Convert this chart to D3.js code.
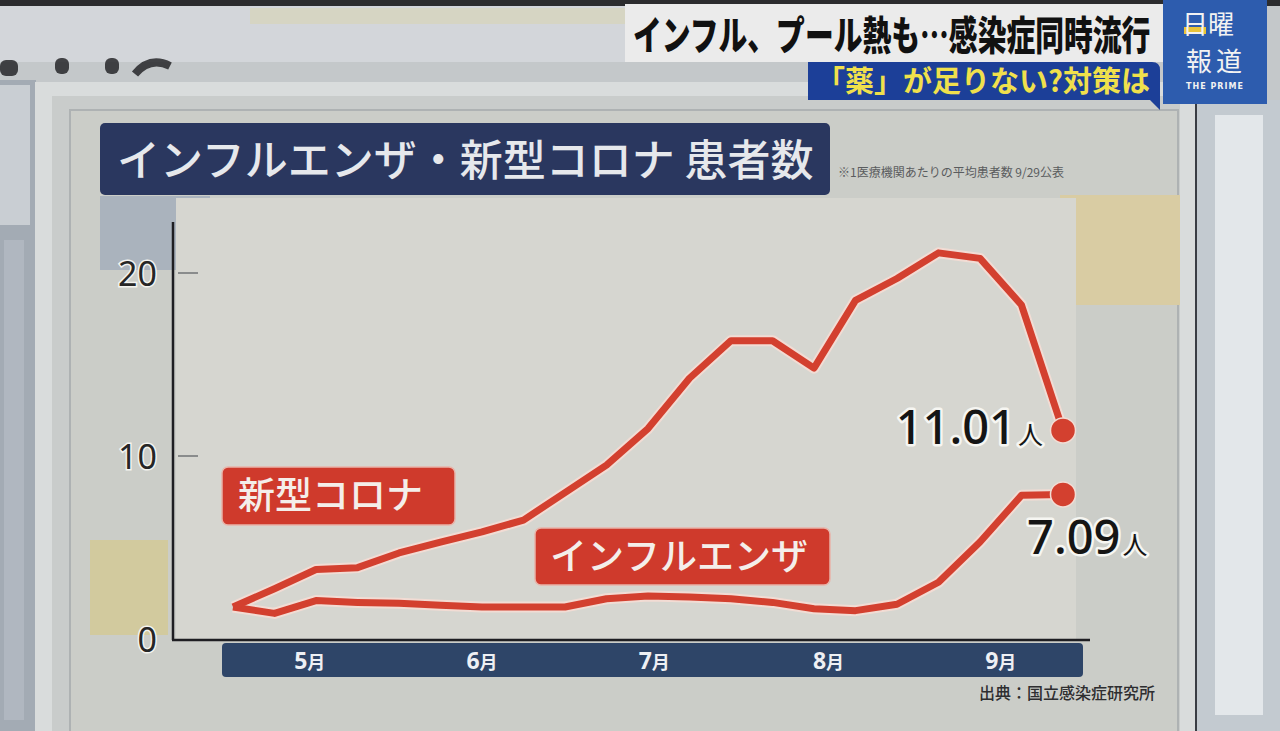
<!DOCTYPE html>
<html><head><meta charset="utf-8">
<script src="https://cdn.jsdelivr.net/npm/d3@7"></script>
<style>html,body{margin:0;padding:0;background:#c4c8ca;overflow:hidden}</style>
</head><body><svg id="c" width="1280" height="731"></svg>
<script>
// ---- data ----
const weeks = ["5/1","5/8","5/15","5/22","5/29","6/5","6/12","6/19","6/26","7/3","7/10","7/17","7/24","7/31","8/7","8/14","8/21","8/28","9/4","9/11","9/18"];
const covid = [1.75, 2.75, 3.8, 3.9, 4.7, 5.3, 5.85, 6.5, 8.0, 9.5, 11.5, 14.25, 16.3, 16.3, 14.8, 18.5, 19.7, 21.1, 20.8, 18.25, 11.4];
const flu   = [1.75, 1.4, 2.1, 2.0, 1.95, 1.85, 1.75, 1.75, 1.75, 2.2, 2.35, 2.3, 2.2, 2.0, 1.65, 1.55, 1.9, 3.1, 5.3, 7.85, 7.9];
const yTicks = [0, 10, 20];
const months = ["5", "6", "7", "8", "9"];
const monthAt = [1.85, 6, 10.15, 14.35, 18.5];
const seriesNames = ["新型コロナ", "インフルエンザ"];
const endValues = ["11.01", "7.09"];
const unit = "人";
const title = "インフルエンザ・新型コロナ 患者数";
const note = "※1医療機関あたりの平均患者数 9/29公表";
const source = "出典：国立感染症研究所";
const headline = "インフル、プール熱も…感染症同時流行";
const subhead = "「薬」が足りない?対策は";
const logo = ["日曜", "報道", "THE PRIME"];

const JP = "'Noto Sans CJK JP','Noto Sans',sans-serif";
const svg = d3.select("#c");
const RED = "#d3402f";

// ---- background (TV studio photo) ----
svg.append("rect").attr("x",0).attr("y",0).attr("width",1280).attr("height",731).attr("fill","#c4c8ca");
svg.append("rect").attr("x",0).attr("y",0).attr("width",640).attr("height",62).attr("fill","#d3d6da");
svg.append("rect").attr("x",250).attr("y",8).attr("width",380).attr("height",16).attr("fill","#d9d4b4").attr("opacity",0.6);
svg.append("rect").attr("x",0).attr("y",0).attr("width",1280).attr("height",6).attr("fill","#2c2c2e");
[[0,60,18],[55,58,14],[105,58,14]].forEach(d=>svg.append("rect").attr("x",d[0]).attr("y",d[1]).attr("width",d[2]).attr("height",16).attr("rx",6).attr("fill","#1d1d1f").attr("opacity",0.8));
svg.append("path").attr("d","M135,74 Q150,56 170,66").attr("stroke","#1d1d1f").attr("stroke-width",8).attr("fill","none").attr("opacity",0.8);
// left strip
svg.append("rect").attr("x",0).attr("y",80).attr("width",36).attr("height",651).attr("fill","#a3abb4");
svg.append("rect").attr("x",0).attr("y",85).attr("width",30).attr("height",140).attr("fill","#c9ced3");
svg.append("rect").attr("x",4).attr("y",240).attr("width",20).attr("height",480).attr("fill","#b5bcc4").attr("opacity",0.7);
// right strip
svg.append("rect").attr("x",1195).attr("y",100).attr("width",85).attr("height",631).attr("fill","#c3cad0");
svg.append("rect").attr("x",1215).attr("y",115).attr("width",48).attr("height",600).attr("fill","#e3e7ea");
svg.append("rect").attr("x",1193).attr("y",100).attr("width",4).attr("height",631).attr("fill","#3a3d44");

// panel
svg.append("rect").attr("x",35).attr("y",82).attr("width",1160).attr("height",660).attr("fill","#d9dcdc");
svg.append("rect").attr("x",52).attr("y",96).attr("width",1128).attr("height",640).attr("fill","#c9cccb");
svg.append("rect").attr("x",70).attr("y",110).attr("width",1108).attr("height",625).attr("fill","#cbcdc8").attr("stroke","#aeb2b3").attr("stroke-width",2);
// layered background patches
svg.append("rect").attr("x",100).attr("y",196).attr("width",110).attr("height",74).attr("fill","#aab3bd");
svg.append("rect").attr("x",90).attr("y",540).attr("width",78).attr("height",95).attr("fill","#d2ca9e");
svg.append("rect").attr("x",1060).attr("y",195).attr("width",120).attr("height",110).attr("fill","#d9cca3");
svg.append("rect").attr("x",176).attr("y",198).attr("width",900).attr("height",442).attr("fill","#d6d6d0");

// ---- top captions ----
svg.append("rect").attr("x",625).attr("y",4).attr("width",538).attr("height",58).attr("fill","#ebebeb");
svg.append("text").attr("x",633).attr("y",50).attr("font-family",JP).attr("font-weight",900).attr("font-size",40)
  .attr("fill","#111").attr("transform","translate(633,0) scale(0.72,1) translate(-633,0)").text(headline);
svg.append("path").attr("d","M808,62 H1152 Q1160,62 1160,70 V110 L1150,100 H808 Z").attr("fill","#1c3f98");
svg.append("text").attr("x",816).attr("y",92).attr("font-family",JP).attr("font-weight",700).attr("font-size",29)
  .attr("fill","#f0e04c").text(subhead);
svg.append("rect").attr("x",1163).attr("y",0).attr("width",104).attr("height",104).attr("fill","#2d5cae");
svg.append("rect").attr("x",1184).attr("y",27).attr("width",22).attr("height",7).attr("fill","#e9c43a");
svg.append("text").attr("x",1182).attr("y",34).attr("font-family",JP).attr("font-size",26).attr("fill","#f2f2f2").text(logo[0]);
svg.append("text").attr("x",1216).attr("y",71).attr("text-anchor","middle").attr("font-family",JP).attr("font-size",26).attr("letter-spacing",4).attr("fill","#f2f2f2").text(logo[1]);
svg.append("text").attr("x",1215).attr("y",89).attr("text-anchor","middle").attr("font-family","'DejaVu Sans',sans-serif").attr("font-weight",700).attr("font-size",8).attr("letter-spacing",1).attr("fill","#f2f2f2").text(logo[2]);

// ---- title ----
svg.append("rect").attr("x",100).attr("y",123).attr("width",730).attr("height",72).attr("rx",5).attr("fill","#2a375f");
svg.append("text").attr("x",117).attr("y",176).attr("font-family",JP).attr("font-weight",500).attr("font-size",43).attr("fill","#e6e8ec").text(title);
svg.append("text").attr("x",838).attr("y",177).attr("font-family",JP).attr("font-size",12).attr("fill","#5a5c5e").text(note);

// ---- scales ----
const x = d3.scaleLinear().domain([0, weeks.length - 1]).range([233, 1063]);
const y = d3.scaleLinear().domain([0, 20]).range([639, 273]);

// axes
svg.append("line").attr("x1",173).attr("x2",173).attr("y1",222).attr("y2",y(0)+1).attr("stroke","#1e1e22").attr("stroke-width",2.5);
svg.append("line").attr("x1",172).attr("x2",1090).attr("y1",y(0)+1).attr("y2",y(0)+1).attr("stroke","#1e1e22").attr("stroke-width",2.5);
svg.selectAll(".tk").data(yTicks.filter(d=>d>0)).join("line").attr("class","tk")
  .attr("x1",178).attr("x2",198).attr("y1",d=>y(d)).attr("y2",d=>y(d)).attr("stroke","#8a8c8c").attr("stroke-width",2);
svg.selectAll(".tl").data(yTicks).join("text").attr("class","tl")
  .attr("x",157).attr("y",d=>y(d)+13).attr("text-anchor","end")
  .attr("font-family","'Noto Sans',sans-serif").attr("font-size",34).attr("fill","#262626")
  .attr("stroke","#f4f4f0").attr("stroke-width",3).attr("paint-order","stroke").text(d=>d);

// month band
svg.append("rect").attr("x",222).attr("y",643).attr("width",861).attr("height",34).attr("rx",4).attr("fill","#2e4568");
const mt = svg.selectAll(".mt").data(months).join("text").attr("class","mt")
  .attr("x",(d,i)=>x(monthAt[i])).attr("y",669).attr("text-anchor","middle").attr("fill","#eef0f4");
mt.append("tspan").attr("font-family","'Noto Sans',sans-serif").attr("font-weight",700).attr("font-size",23).text(d=>d);
mt.append("tspan").attr("font-family",JP).attr("font-weight",700).attr("font-size",18).text("月");

// ---- lines ----
const line = d3.line().x((d,i)=>x(i)).y(d=>y(d));
[flu, covid].forEach(s=>{
  svg.append("path").datum(s).attr("d",line).attr("fill","none").attr("stroke","#f2dcd4").attr("stroke-width",11).attr("stroke-linejoin","round");
});
[flu, covid].forEach(s=>{
  svg.append("path").datum(s).attr("d",line).attr("fill","none").attr("stroke",RED).attr("stroke-width",7).attr("stroke-linejoin","round");
});
[covid, flu].forEach(s=>{
  const last = s.length - 1;
  svg.append("circle").attr("cx",x(last)).attr("cy",y(s[last])).attr("r",12.5).attr("fill",RED).attr("stroke","#f2dcd4").attr("stroke-width",1.5);
});

// series label boxes
const boxes = [{x:222,y:467,w:233,h:58,tx:238},{x:535,y:528,w:295,h:57,tx:550}];
boxes.forEach((b,i)=>{
  svg.append("rect").attr("x",b.x).attr("y",b.y).attr("width",b.w).attr("height",b.h).attr("rx",6).attr("fill","#cf3a2c").attr("stroke","#e9b3a8").attr("stroke-width",1.5);
  svg.append("text").attr("x",b.tx).attr("y",b.y+b.h/2+13).attr("font-family",JP).attr("font-weight",500).attr("font-size",37).attr("fill","#f4eeea").text(seriesNames[i]);
});

// end value labels
const endSeries = [covid, flu];
endSeries.forEach((s,i)=>{
  const last = s.length - 1;
  const t = svg.append("text").attr("font-family","'Noto Sans',sans-serif").attr("fill","#151515")
    .attr("stroke","#f6f6f2").attr("stroke-width",5).attr("paint-order","stroke").attr("stroke-linejoin","round");
  if (i === 0) t.attr("x", x(last) - 20).attr("y", y(s[last]) + 14).attr("text-anchor","end");
  else t.attr("x", x(last) - 36).attr("y", y(s[last]) + 60).attr("text-anchor","start");
  t.append("tspan").attr("font-size",47).attr("font-weight",500).text(endValues[i]);
  t.append("tspan").attr("font-family",JP).attr("font-size",25).attr("dx",2).text(unit);
});

// source
svg.append("text").attr("x",1155).attr("y",699).attr("text-anchor","end").attr("font-family",JP).attr("font-weight",500).attr("font-size",16).attr("fill","#2e2e30").text(source);
</script></body></html>
